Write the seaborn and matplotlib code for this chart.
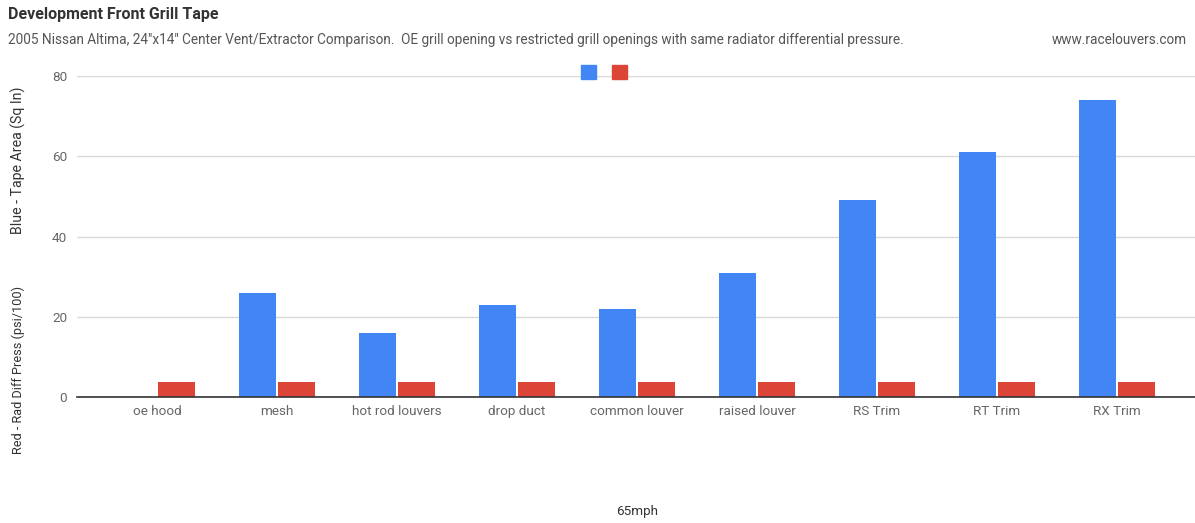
import matplotlib
matplotlib.use("Agg")
import matplotlib.pyplot as plt
import seaborn as sns
import pandas as pd
from matplotlib.patches import Patch

categories = ["oe hood", "mesh", "hot rod louvers", "drop duct", "common louver",
              "raised louver", "RS Trim", "RT Trim", "RX Trim"]
tape_area = [0, 26, 16, 23, 22, 31, 49, 61, 74]
diff_press = [3.7, 3.7, 3.7, 3.7, 3.7, 3.7, 3.7, 3.7, 3.7]
series_names = ["Tape Area", "Diff Press"]
colors = ["#4285F4", "#DB4437"]
yticks = [0, 20, 40, 60, 80]

df = pd.DataFrame({
    "category": categories * 2,
    "value": tape_area + diff_press,
    "series": [series_names[0]] * len(categories) + [series_names[1]] * len(categories),
})

sns.set_theme(style="white")
plt.rcParams["font.family"] = ["Roboto", "DejaVu Sans"]

fig = plt.figure(figsize=(11.95, 5.23), dpi=100)
ax = fig.add_axes([77 / 1195, 1 - 397 / 523, 1 - 77 / 1195, (397 - 76) / 523])

sns.barplot(data=df, x="category", y="value", hue="series", palette=colors,
            width=0.645, gap=0.03, ax=ax, legend=False, saturation=1, linewidth=0)

ax.set_ylim(0, 80)
ax.set_xlim(-0.667, 8.65)
ax.set_yticks(yticks)
ax.set_yticklabels([str(t) for t in yticks])
ax.yaxis.grid(True, color="#d9d9d9", linewidth=1)
ax.set_axisbelow(True)
for s in ["top", "right", "left"]:
    ax.spines[s].set_visible(False)
ax.spines["bottom"].set_color("#333333")
ax.spines["bottom"].set_linewidth(1.2)
ax.spines["bottom"].set_zorder(5)
ax.tick_params(axis="both", length=0, labelsize=9.7, colors="#666666")
ax.tick_params(axis="x", pad=6)
ax.tick_params(axis="y", pad=7)
ax.set_xlabel("")
ax.set_ylabel("")

fig.text(8 / 1195, 1 - 15 / 523, "Development Front Grill Tape", fontsize=11.5,
         fontweight="bold", color="#333333", va="center", ha="left")
fig.text(8 / 1195, 1 - 40 / 523,
         "2005 Nissan Altima, 24\"x14\" Center Vent/Extractor Comparison.  OE grill opening vs restricted grill openings with same radiator differential pressure.",
         fontsize=9.8, color="#555555", va="center", ha="left")
fig.text(1187 / 1195, 1 - 40 / 523, "www.racelouvers.com", fontsize=9.8,
         color="#555555", va="center", ha="right")
fig.text(637 / 1195, 1 - 512 / 523, "65mph", fontsize=9.7, color="#333333",
         va="center", ha="center")
fig.text(18 / 1195, 1 - 160 / 523, "Blue - Tape Area (Sq In)", fontsize=10.2,
         color="#333333", va="center", ha="center", rotation=90)
fig.text(18 / 1195, 1 - 370 / 523, "Red - Rad Diff Press (psi/100)", fontsize=9.2,
         color="#333333", va="center", ha="center", rotation=90)

handles = [Patch(facecolor=c, edgecolor=c) for c in colors]
fig.legend(handles, ["", ""], loc="center", bbox_to_anchor=(604 / 1195, 1 - 73 / 523),
           ncol=2, frameon=False, handlelength=1.0, handleheight=1.0,
           columnspacing=1.0, handletextpad=0.0)

fig.savefig("out.png", dpi=100)
